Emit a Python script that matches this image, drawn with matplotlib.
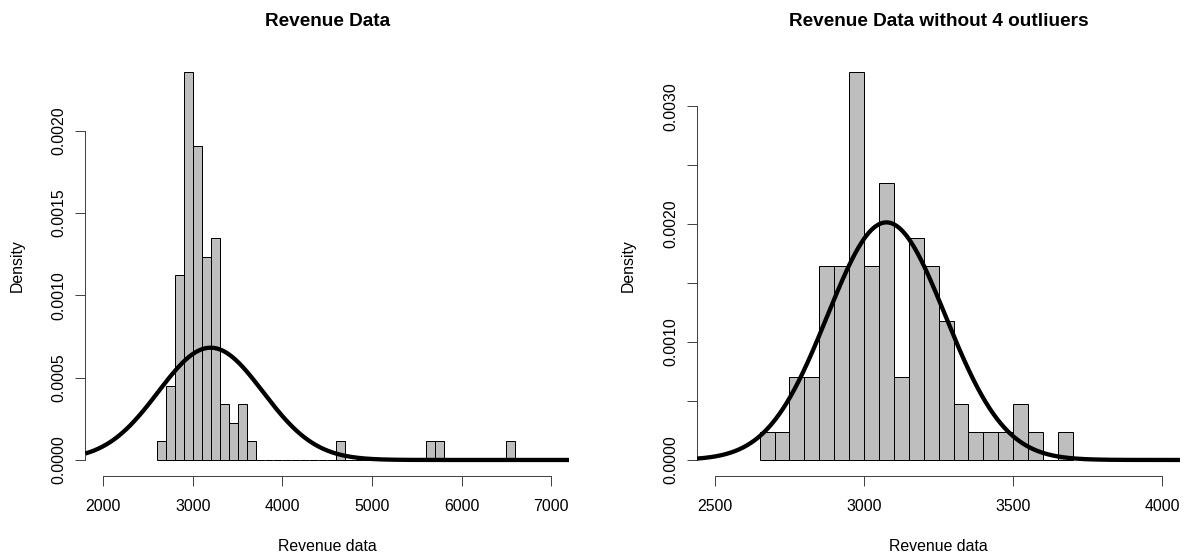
import numpy as np, matplotlib
matplotlib.use("Agg"); import matplotlib.pyplot as plt
plt.rcParams.update({"font.family": ["Liberation Sans", "DejaVu Sans"], "font.size": 11.4})

# left: full revenue data, bins of 100 starting at 2600
full_left_edges = [2600, 2700, 2800, 2900, 3000, 3100, 3200, 3300, 3400, 3500, 3600,
                   3700, 3800, 3900, 4000, 4100, 4200, 4300, 4400, 4500,
                   4600,
                   4700, 4800, 4900, 5000, 5100, 5200, 5300, 5400, 5500,
                   5600, 5700,
                   5800, 5900, 6000, 6100, 6200, 6300, 6400,
                   6500]
full_counts = [1, 4, 10, 21, 17, 11, 12, 3, 2, 3, 1,
               0, 0, 0, 0, 0, 0, 0, 0, 0,
               1,
               0, 0, 0, 0, 0, 0, 0, 0, 0,
               1, 1,
               0, 0, 0, 0, 0, 0, 0,
               1]
full_width = 100
full_mean, full_sd = 3198, 585

# right: without 4 outliers, bins of 50 starting at 2650
trim_left_edges = [2650, 2700, 2750, 2800, 2850, 2900, 2950, 3000, 3050, 3100, 3150,
                   3200, 3250, 3300, 3350, 3400, 3450, 3500, 3550, 3600, 3650]
trim_counts = [1, 1, 3, 3, 7, 7, 14, 7, 10, 3, 8, 7, 5, 2, 1, 1, 1, 2, 1, 0, 1]
trim_width = 50
trim_mean, trim_sd = 3075, 198

W, H = 1188, 554
fig = plt.figure(figsize=(W/100, H/100), dpi=100)
PX = 72/100  # points per pixel

def panel(rect, lefts, counts, width, mu, sd, xlim, xticks, yticks, ylabels, title):
    ax = fig.add_axes(rect)
    edges = list(lefts) + [lefts[-1] + width]
    dens, _, _ = ax.hist(lefts, bins=edges, weights=counts, density=True,
                         facecolor="#bebebe", edgecolor="black", linewidth=1*PX)
    ymax = max(dens)
    lo, hi = xlim
    ext = 0.04*(hi - lo)
    ax.set_xlim(lo - ext, hi + ext)
    ax.set_ylim(-0.04*ymax, 1.04*ymax)
    xs = np.linspace(lo - ext, hi + ext, 600)
    ys = np.exp(-0.5*((xs - mu)/sd)**2)/(sd*np.sqrt(2*np.pi))
    ax.plot(xs, ys, color="black", lw=4.3*PX, zorder=5, solid_capstyle="butt")
    for s in ("top", "right"):
        ax.spines[s].set_visible(False)
    ax.spines["bottom"].set_bounds(xticks[0], xticks[-1])
    ax.spines["left"].set_bounds(yticks[0], yticks[-1])
    for s in ("bottom", "left"):
        ax.spines[s].set_linewidth(1*PX); ax.spines[s].set_color("#444444")
    ax.set_xticks(xticks)
    ax.set_xticklabels([str(v) for v in xticks])
    ax.set_yticks(yticks)
    ax.set_yticklabels(ylabels)
    ax.tick_params(axis="both", length=9.7*PX, width=1*PX, color="#444444", labelsize=11.4)
    ax.tick_params(axis="x", pad=10)
    ax.tick_params(axis="y", pad=6.5, labelrotation=90)
    for t in ax.get_yticklabels():
        t.set_va("center")
    ax.set_title(title, fontsize=13.7, fontweight="bold", pad=21.6)
    hpx = rect[3]*H; wpx = rect[2]*W
    ax.text(0.5, -75.2/hpx, "Revenue data", transform=ax.transAxes,
            ha="center", va="baseline", fontsize=11.4)
    ax.text(-68.4/wpx, 0.5, "Density", transform=ax.transAxes, rotation=90,
            ha="center", va="center", fontsize=11.4)
    return ax

bottom = (H - 475.5)/H; height = 419.5/H
panel([85.4/W, bottom, 483.6/W, height], full_left_edges, full_counts, full_width,
      full_mean, full_sd, (2000, 7000), [2000, 3000, 4000, 5000, 6000, 7000],
      [0, 0.0005, 0.0010, 0.0015, 0.0020],
      ["0.0000", "0.0005", "0.0010", "0.0015", "0.0020"], "Revenue Data")
panel([697/W, bottom, 483.2/W, height], trim_left_edges, trim_counts, trim_width,
      trim_mean, trim_sd, (2500, 4000), [2500, 3000, 3500, 4000],
      [0, 0.0005, 0.0010, 0.0015, 0.0020, 0.0025, 0.0030],
      ["0.0000", "", "0.0010", "", "0.0020", "", "0.0030"],
      "Revenue Data without 4 outliuers")

fig.savefig("out.png", dpi=100)
